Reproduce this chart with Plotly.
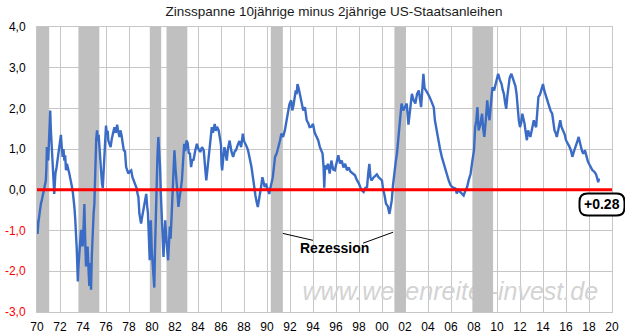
import plotly.graph_objects as go

# ---- data ----
years = [
1970.00,1970.05,1970.12,1970.20,1970.28,1970.34,1970.42,1970.48,1970.56,1970.63,1970.70,1970.77,1970.82,1970.86,1970.92,1970.98,
1971.03,1971.06,1971.10,1971.15,1971.20,1971.27,1971.35,1971.42,1971.50,1971.55,1971.60,1971.70,1971.79,1971.86,1971.94,
1972.08,1972.15,1972.23,1972.30,1972.38,1972.45,1972.52,1972.60,1972.70,1972.81,1972.88,1972.95,
1973.02,1973.10,1973.18,1973.25,1973.32,1973.39,1973.45,1973.50,1973.55,1973.60,1973.68,1973.75,1973.83,1973.90,1973.97,
1974.05,1974.12,1974.18,1974.26,1974.33,1974.40,1974.48,1974.55,1974.62,1974.70,1974.77,1974.84,1974.92,1974.99,
1975.04,1975.08,1975.15,1975.22,1975.30,1975.36,1975.42,1975.50,1975.57,1975.65,1975.72,1975.80,1975.86,1975.93,
1976.00,1976.08,1976.15,1976.20,1976.30,1976.40,1976.50,1976.60,1976.73,1976.85,1976.97,
1977.05,1977.17,1977.25,1977.35,1977.45,1977.55,1977.65,1977.75,1977.85,1977.95,
1978.05,1978.19,1978.30,1978.42,1978.55,1978.65,1978.75,1978.82,1978.90,
1979.05,1979.15,1979.25,1979.35,1979.43,1979.50,1979.58,1979.65,1979.72,1979.80,1979.85,1979.90,1979.98,
1980.05,1980.12,1980.20,1980.26,1980.32,1980.40,1980.47,1980.55,1980.62,1980.70,1980.77,1980.85,1980.92,
1981.00,1981.07,1981.15,1981.22,1981.30,1981.40,1981.48,1981.55,1981.62,1981.70,1981.78,1981.85,1981.95,
1982.05,1982.15,1982.22,1982.30,1982.40,1982.50,1982.60,1982.70,1982.80,1982.90,
1983.00,1983.10,1983.20,1983.30,1983.40,1983.50,1983.60,1983.75,1983.90,
1984.05,1984.20,1984.35,1984.50,1984.62,1984.72,1984.80,1984.90,
1985.00,1985.10,1985.20,1985.30,1985.45,1985.55,1985.65,1985.80,1985.90,
1986.00,1986.05,1986.10,1986.20,1986.30,1986.40,1986.50,1986.60,1986.75,1986.90,
1987.05,1987.20,1987.30,1987.45,1987.60,1987.75,1987.90,
1988.00,1988.15,1988.25,1988.35,1988.50,1988.65,1988.78,1988.90,
1989.00,1989.10,1989.20,1989.30,1989.40,1989.50,1989.60,1989.70,1989.80,1989.90,
1990.00,1990.10,1990.20,1990.30,1990.40,1990.50,1990.60,1990.70,1990.85,
1991.00,1991.12,1991.25,1991.40,1991.55,1991.70,1991.85,1991.95,
1992.10,1992.20,1992.30,1992.40,1992.50,1992.58,1992.65,1992.75,1992.85,
1993.00,1993.15,1993.30,1993.45,1993.60,1993.70,1993.85,
1994.00,1994.15,1994.30,1994.45,1994.60,1994.75,1994.83,1994.92,1994.98,
1995.05,1995.15,1995.30,1995.45,1995.60,1995.75,1995.90,
1996.05,1996.20,1996.35,1996.50,1996.65,1996.80,1996.95,
1997.10,1997.25,1997.45,1997.65,1997.80,
1998.00,1998.20,1998.40,1998.55,1998.70,1998.80,1998.90,
1999.00,1999.10,1999.25,1999.40,1999.55,1999.70,1999.85,
2000.00,2000.10,2000.20,2000.35,2000.50,2000.65,2000.75,2000.85,2000.95,
2001.05,2001.20,2001.30,2001.45,2001.60,2001.70,2001.85,
2002.00,2002.15,2002.30,2002.45,2002.60,2002.75,2002.90,
2003.05,2003.20,2003.40,2003.50,2003.60,2003.70,2003.85,
2004.00,2004.20,2004.35,2004.50,2004.60,2004.75,2004.90,
2005.05,2005.20,2005.35,2005.50,2005.65,2005.80,2005.95,
2006.10,2006.25,2006.40,2006.50,2006.65,2006.80,2006.95,
2007.10,2007.25,2007.40,2007.55,2007.70,2007.85,
2008.00,2008.10,2008.20,2008.30,2008.40,2008.55,2008.70,2008.80,2008.90,
2009.05,2009.15,2009.25,2009.35,2009.50,2009.60,2009.75,2009.90,
2010.10,2010.25,2010.40,2010.50,2010.60,2010.70,2010.80,2010.90,
2011.00,2011.10,2011.25,2011.40,2011.50,2011.60,2011.70,2011.80,2011.90,
2012.00,2012.10,2012.20,2012.30,2012.40,2012.50,2012.60,2012.70,2012.80,2012.90,
2013.05,2013.20,2013.30,2013.40,2013.50,2013.60,2013.75,2013.85,
2014.00,2014.10,2014.20,2014.35,2014.50,2014.65,2014.80,2014.90,
2015.00,2015.10,2015.20,2015.35,2015.50,2015.60,2015.75,2015.90,
2016.00,2016.15,2016.30,2016.45,2016.55,2016.70,2016.85,
2017.00,2017.10,2017.20,2017.30,2017.40,2017.50,2017.65,2017.75,2017.90,
2018.00,2018.15,2018.30,2018.45,2018.60,2018.70,2018.80,2018.87,
]
spread = [
-0.75,-1.08,-0.80,-0.58,-0.45,-0.34,-0.25,-0.18,-0.05,0.00,0.15,0.23,0.55,1.05,0.80,0.72,
1.10,1.30,1.55,1.95,1.50,1.05,0.56,0.20,-0.10,0.15,0.40,0.55,0.72,0.90,0.97,
1.35,1.05,0.81,1.00,0.72,0.85,0.48,0.64,0.55,0.40,0.30,0.23,
0.10,-0.02,-0.20,-0.42,-0.70,-0.98,-1.40,-1.80,-2.25,-1.90,-1.55,-1.20,-0.98,-1.30,-1.39,
-0.90,-0.35,-1.10,-1.88,-1.50,-1.39,-1.95,-2.36,-1.80,-2.45,-1.60,-0.98,-0.60,-0.34,
0.30,1.05,1.25,1.46,1.20,1.35,1.05,0.60,0.23,0.15,0.05,0.60,1.05,1.30,
1.58,1.35,1.45,1.21,1.15,1.05,1.25,1.35,1.54,1.40,1.60,
1.45,1.30,1.46,1.35,1.15,0.97,0.95,0.56,0.48,0.40,
0.45,0.48,0.31,0.23,0.10,0.05,-0.10,-0.18,-0.58,
-0.83,-0.65,-0.50,-0.42,-0.25,-0.10,-0.40,-0.58,-1.10,-1.73,-1.00,-0.75,-1.50,
-1.90,-2.20,-2.40,-1.50,-0.60,0.00,0.80,1.30,1.00,0.56,-0.10,-0.58,-1.20,
-1.65,-1.20,-0.75,-1.10,-1.40,-1.73,-1.30,-0.90,-1.20,-0.58,0.10,0.60,0.97,
0.50,0.23,-0.10,-0.42,-0.20,0.05,0.23,0.70,1.13,0.95,
1.21,1.15,0.90,0.89,0.56,0.75,0.72,0.95,1.13,
1.00,0.93,1.05,0.97,0.55,0.23,0.45,0.72,
1.10,1.30,1.54,1.40,1.62,1.45,1.55,1.46,1.30,
1.10,0.60,0.48,0.80,1.05,0.90,0.72,1.00,1.21,0.95,
0.81,0.95,0.97,1.10,1.20,1.05,1.38,
1.20,1.13,1.05,0.97,0.80,0.56,0.30,-0.01,
-0.15,-0.30,-0.42,-0.25,-0.10,0.10,0.31,0.15,0.07,0.15,
0.05,-0.05,-0.10,0.05,0.15,0.30,0.55,0.81,0.90,
1.05,1.20,1.38,1.30,1.46,1.70,1.95,2.10,
2.20,1.95,2.07,2.25,2.44,2.35,2.60,2.50,2.36,
2.12,1.95,2.03,1.71,1.63,1.54,1.55,
1.62,1.40,1.30,1.22,1.05,0.97,0.89,0.56,0.05,
0.60,0.50,0.64,0.40,0.72,0.50,0.48,
0.70,0.85,0.65,0.72,0.55,0.64,0.48,
0.55,0.45,0.40,0.36,0.25,
0.15,0.00,-0.05,0.05,0.07,0.40,0.64,
0.30,0.23,0.30,0.35,0.38,0.31,0.28,
0.23,0.00,-0.10,-0.34,-0.40,-0.59,-0.45,-0.26,0.10,
0.39,0.70,0.89,1.30,1.70,2.12,1.95,
2.05,2.12,1.60,2.00,2.36,2.20,2.12,
2.36,2.44,2.03,2.50,2.85,2.50,2.44,
2.36,2.24,2.15,2.03,1.71,1.45,1.22,
1.00,0.81,0.65,0.48,0.35,0.23,0.12,
0.07,0.05,0.03,-0.09,0.00,-0.05,-0.10,
-0.14,-0.02,0.07,0.25,0.39,0.70,
0.97,1.54,1.70,2.03,1.46,1.60,1.87,1.50,1.30,
1.80,2.20,1.90,1.71,2.20,2.52,2.44,2.60,
2.85,2.70,2.60,2.45,2.36,2.15,1.99,2.30,
2.60,2.75,2.85,2.70,2.60,2.55,2.36,1.87,1.70,
1.54,1.65,1.87,1.75,1.62,1.40,1.22,1.46,1.35,1.30,
1.50,1.71,1.60,1.54,1.90,2.28,2.35,2.48,
2.60,2.45,2.36,2.20,2.03,1.95,1.87,1.65,
1.46,1.40,1.30,1.50,1.71,1.55,1.46,1.35,
1.22,1.15,1.06,0.95,0.81,0.95,1.06,
1.20,1.30,1.15,1.06,0.95,0.89,0.97,0.85,0.70,
0.64,0.55,0.48,0.45,0.39,0.30,0.19,0.28,
]

rec_start = [1970.0, 1973.6, 1979.81, 1981.26, 1990.33, 2001.08, 2007.86]
rec_end   = [1971.06, 1975.42, 1980.8, 1983.07, 1991.38, 2002.07, 2009.66]

x_ticks = list(range(1970, 2021, 2))
x_ticklabels = [f"{y % 100:02d}" for y in x_ticks]
y_ticks = [-3, -2, -1, 0, 1, 2, 3, 4]
y_ticklabels = [f"{v:.1f}".replace(".", ",") for v in y_ticks]

title_text = "Zinsspanne 10jährige minus 2jährige US-Staatsanleihen"
watermark = "www.wellenreiter-invest.de"

X0, X1 = 1970, 2020
Y0, Y1 = -3, 4
L, R, T, B = 37, 13, 27, 21
W_FIG, H_FIG = 625, 333
PW, PH = W_FIG - L - R, H_FIG - T - B

FONT = "Liberation Sans, Arial, sans-serif"
GRID = "#c6c6c6"

fig = go.Figure()

# watermark (under the recession bars)
fig.add_trace(go.Scatter(
    x=[2005.94], y=[-2.54], mode="text", text=[watermark],
    textfont=dict(family=FONT, size=25, color="#d3d3d3", style="italic"),
    hoverinfo="skip", showlegend=False))

# recession bars
for s, e in zip(rec_start, rec_end):
    fig.add_trace(go.Scatter(
        x=[s, e, e, s, s], y=[Y0, Y0, Y1, Y1, Y0], mode="lines",
        fill="toself", fillcolor="#c0c0c0", line=dict(width=0, color="#c0c0c0"),
        hoverinfo="skip", showlegend=False))

# spread line
fig.add_trace(go.Scatter(
    x=years, y=spread, mode="lines",
    line=dict(color="#3a6cc6", width=2.4), showlegend=False))

# zero line
fig.add_shape(type="line", xref="paper", x0=0, x1=1, yref="y", y0=0, y1=0,
              line=dict(color="#ff0000", width=3), layer="above")

# Rezession labels
fig.add_shape(type="line", xref="x", yref="y", x0=1991.38, y0=-1.07, x1=1994.0, y1=-1.24,
              line=dict(color="black", width=1), layer="above")
fig.add_shape(type="line", xref="x", yref="y", x0=1998.35, y0=-1.31, x1=2000.97, y1=-1.04,
              line=dict(color="black", width=1), layer="above")
fig.add_annotation(x=1995.9, y=-1.44, xref="x", yref="y", text="<b>Rezession</b>",
                   showarrow=False, xanchor="center", yanchor="middle",
                   font=dict(family=FONT, size=14, color="black"))

# last value label with rounded box
last_x, last_y = years[-1], spread[-1]
def px(xv):
    return L + (xv - X0) / (X1 - X0) * PW
def py(yv):
    return T + (Y1 - yv) / (Y1 - Y0) * PH
cx, cy = px(last_x) + 3, py(last_y) + 26
hw, hh, rr = 22.5, 11, 8
def xp(p): return (p - L) / PW
def yp(p): return 1 - (p - T) / PH
xa, xb = xp(cx - hw), xp(cx + hw)
yb, yt = yp(cy + hh), yp(cy - hh)
rx, ry = rr / PW, rr / PH
path = (f"M {xa+rx},{yb} L {xb-rx},{yb} Q {xb},{yb} {xb},{yb+ry} "
        f"L {xb},{yt-ry} Q {xb},{yt} {xb-rx},{yt} L {xa+rx},{yt} "
        f"Q {xa},{yt} {xa},{yt-ry} L {xa},{yb+ry} Q {xa},{yb} {xa+rx},{yb} Z")
fig.add_shape(type="path", xref="paper", yref="paper", path=path,
              fillcolor="white", line=dict(color="black", width=2), layer="above")
fig.add_annotation(x=xp(cx), y=yp(cy), xref="paper", yref="paper",
                   xanchor="center", yanchor="middle",
                   text=f"<b>{last_y:+.2f}</b>", showarrow=False,
                   font=dict(family=FONT, size=14, color="black"))

fig.update_layout(
    width=W_FIG, height=H_FIG,
    margin=dict(l=L, r=R, t=T, b=B, autoexpand=False),
    paper_bgcolor="white", plot_bgcolor="white",
    font=dict(family=FONT, size=12, color="black"),
    title=dict(text=title_text, x=xp(334), xref="paper", xanchor="center",
               y=1 - 11 / H_FIG, yref="container", yanchor="middle",
               font=dict(family=FONT, size=13.5, color="#1a1a1a")),
    xaxis=dict(range=[X0, X1], tickvals=x_ticks, ticktext=x_ticklabels,
               showgrid=True, gridcolor=GRID, gridwidth=1, zeroline=False,
               showline=True, linecolor=GRID, mirror=True,
               ticks="outside", ticklen=4, tickcolor="rgba(0,0,0,0)",
               automargin=False,
               tickfont=dict(family=FONT, size=12, color="black")),
    yaxis=dict(range=[Y0, Y1], tickvals=y_ticks,
               ticktext=[f'<span style="color:#ff0000">{t}</span>' if v < 0 else t
                         for v, t in zip(y_ticks, y_ticklabels)],
               showgrid=True, gridcolor=GRID, gridwidth=1, zeroline=False,
               showline=True, linecolor=GRID, mirror=True,
               ticks="outside", ticklen=8, tickcolor="rgba(0,0,0,0)",
               automargin=False,
               tickfont=dict(family=FONT, size=12, color="black")),
    showlegend=False,
)

fig.write_html("out.html")
